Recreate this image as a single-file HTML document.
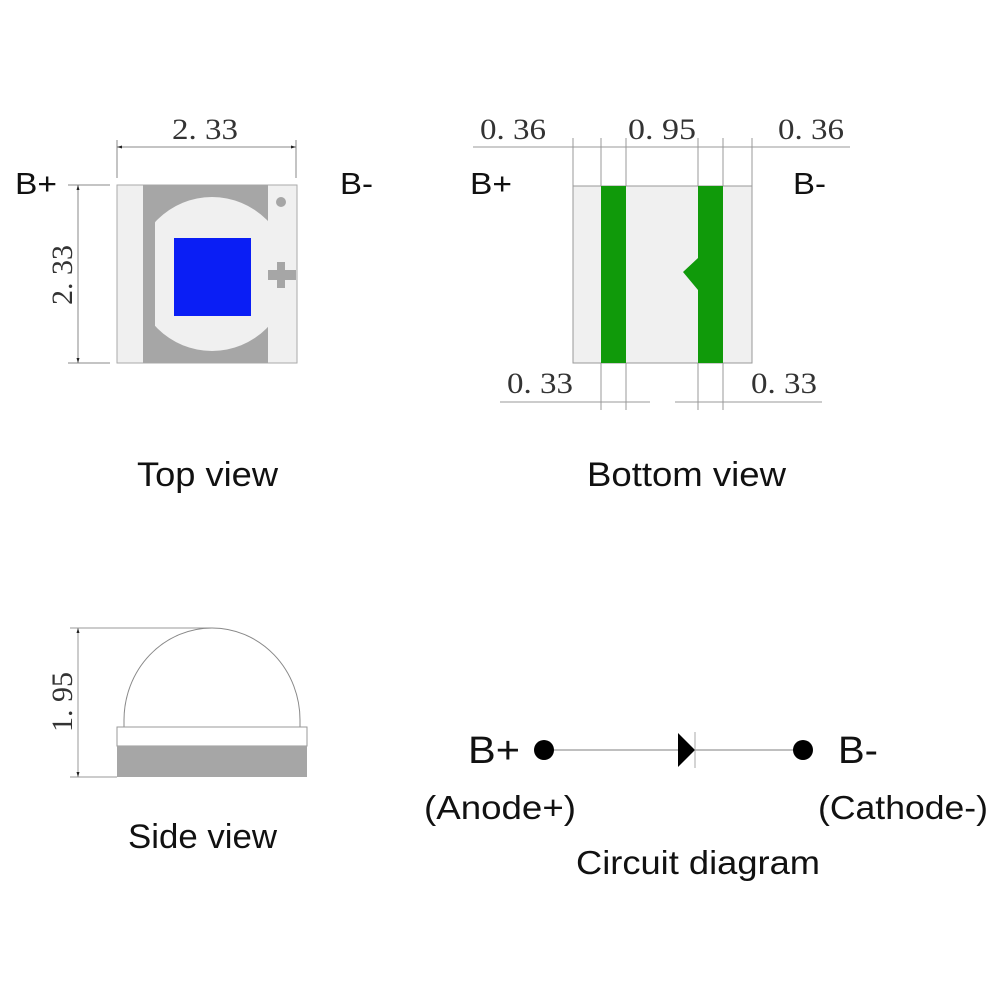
<!DOCTYPE html>
<html><head><meta charset="utf-8"><style>body{margin:0;background:#fff}</style></head><body>
<svg width="1000" height="1000" xmlns="http://www.w3.org/2000/svg" font-family="Liberation Sans, sans-serif">
<defs><clipPath id="c"><rect x="155" y="185" width="113" height="178"/></clipPath>
<marker id="a" viewBox="0 0 10 10" refX="10" refY="5" markerWidth="8" markerHeight="5" orient="auto-start-reverse"><path d="M0,2 L10,5 L0,8z" fill="#222"/></marker></defs>
<g stroke="#888" stroke-width="1" fill="none">
<line x1="117" y1="140" x2="117" y2="178"/><line x1="296" y1="140" x2="296" y2="178"/>
<line x1="117" y1="147" x2="296" y2="147" marker-start="url(#a)" marker-end="url(#a)"/>
<line x1="68" y1="185" x2="110" y2="185"/><line x1="68" y1="363" x2="110" y2="363"/>
<line x1="78" y1="185" x2="78" y2="363" marker-start="url(#a)" marker-end="url(#a)"/>
</g>
<rect x="117" y="185" width="180" height="178" fill="#f0f0f0" stroke="#aaa"/>
<rect x="143" y="185" width="125" height="178" fill="#a6a6a6"/>
<circle cx="212" cy="274" r="77" fill="#f0f0f0" clip-path="url(#c)"/>
<rect x="174" y="238" width="77" height="78" fill="#0a1ef5"/>
<circle cx="281" cy="202" r="5" fill="#a6a6a6"/>
<rect x="268" y="270" width="28" height="10" fill="#a6a6a6"/><rect x="277" y="262" width="8" height="26" fill="#a6a6a6"/>
<g font-family="Liberation Serif, serif" font-size="30" fill="#333" lengthAdjust="spacingAndGlyphs">
<text x="172" y="139" textLength="66" lengthAdjust="spacingAndGlyphs">2. 33</text>
<text transform="translate(72,275) rotate(-90)" text-anchor="middle">2. 33</text>
<text x="480" y="139" textLength="66" lengthAdjust="spacingAndGlyphs">0. 36</text>
<text x="628" y="139" textLength="68" lengthAdjust="spacingAndGlyphs">0. 95</text>
<text x="778" y="139" textLength="66" lengthAdjust="spacingAndGlyphs">0. 36</text>
<text x="507" y="393" textLength="66" lengthAdjust="spacingAndGlyphs">0. 33</text>
<text x="751" y="393" textLength="66" lengthAdjust="spacingAndGlyphs">0. 33</text>
<text transform="translate(72,702) rotate(-90)" text-anchor="middle">1. 95</text>
</g>
<rect x="573" y="186" width="179" height="177" fill="#f0f0f0" stroke="#999"/>
<rect x="601" y="186" width="25" height="177" fill="#109a0a"/>
<rect x="698" y="186" width="25" height="177" fill="#109a0a"/>
<path d="M698,258 L683,272 L698,290z" fill="#109a0a"/>
<g stroke="#999" stroke-width="1" fill="none">
<line x1="473" y1="147" x2="850" y2="147"/>
<line x1="573" y1="138" x2="573" y2="186"/><line x1="601" y1="138" x2="601" y2="186"/><line x1="626" y1="138" x2="626" y2="186"/>
<line x1="698" y1="138" x2="698" y2="186"/><line x1="723" y1="138" x2="723" y2="186"/><line x1="752" y1="138" x2="752" y2="186"/>
<line x1="601" y1="363" x2="601" y2="410"/><line x1="626" y1="363" x2="626" y2="410"/><line x1="698" y1="363" x2="698" y2="410"/><line x1="723" y1="363" x2="723" y2="410"/>
<line x1="500" y1="402" x2="650" y2="402"/><line x1="675" y1="402" x2="822" y2="402"/>
<line x1="70" y1="628" x2="212" y2="628"/><line x1="70" y1="777" x2="117" y2="777"/>
<line x1="78" y1="628" x2="78" y2="777" marker-start="url(#a)" marker-end="url(#a)"/>
</g>
<path d="M124,727 L124,720 A88,92 0 0 1 300,720 L300,727" fill="#fff" stroke="#888"/>
<rect x="117" y="727" width="190" height="19" fill="#fff" stroke="#999"/>
<rect x="117" y="746" width="190" height="31" fill="#a6a6a6"/>
<line x1="544" y1="750" x2="803" y2="750" stroke="#aaa" stroke-width="1.5"/>
<circle cx="544" cy="750" r="10" fill="#000"/><circle cx="803" cy="750" r="10" fill="#000"/>
<path d="M678,733 L678,767 L695,750z" fill="#000"/>
<line x1="695" y1="732" x2="695" y2="768" stroke="#aaa"/>
<g fill="#111" font-size="31">
<text x="15" y="194" textLength="42" lengthAdjust="spacingAndGlyphs">B+</text>
<text x="340" y="194" textLength="33" lengthAdjust="spacingAndGlyphs">B-</text>
<text x="470" y="194" textLength="42" lengthAdjust="spacingAndGlyphs">B+</text>
<text x="793" y="194" textLength="33" lengthAdjust="spacingAndGlyphs">B-</text>
<text x="137" y="486" font-size="34" textLength="141" lengthAdjust="spacingAndGlyphs">Top view</text>
<text x="587" y="486" font-size="34" textLength="199" lengthAdjust="spacingAndGlyphs">Bottom view</text>
<text x="128" y="848" font-size="34" textLength="149" lengthAdjust="spacingAndGlyphs">Side view</text>
<text x="468" y="763" font-size="38" textLength="52" lengthAdjust="spacingAndGlyphs">B+</text>
<text x="838" y="763" font-size="38" textLength="40" lengthAdjust="spacingAndGlyphs">B-</text>
<text x="424" y="819" font-size="33" textLength="152" lengthAdjust="spacingAndGlyphs">(Anode+)</text>
<text x="818" y="819" font-size="33" textLength="170" lengthAdjust="spacingAndGlyphs">(Cathode-)</text>
<text x="576" y="874" font-size="33" textLength="244" lengthAdjust="spacingAndGlyphs">Circuit diagram</text>
</g>
</svg>
</body></html>
